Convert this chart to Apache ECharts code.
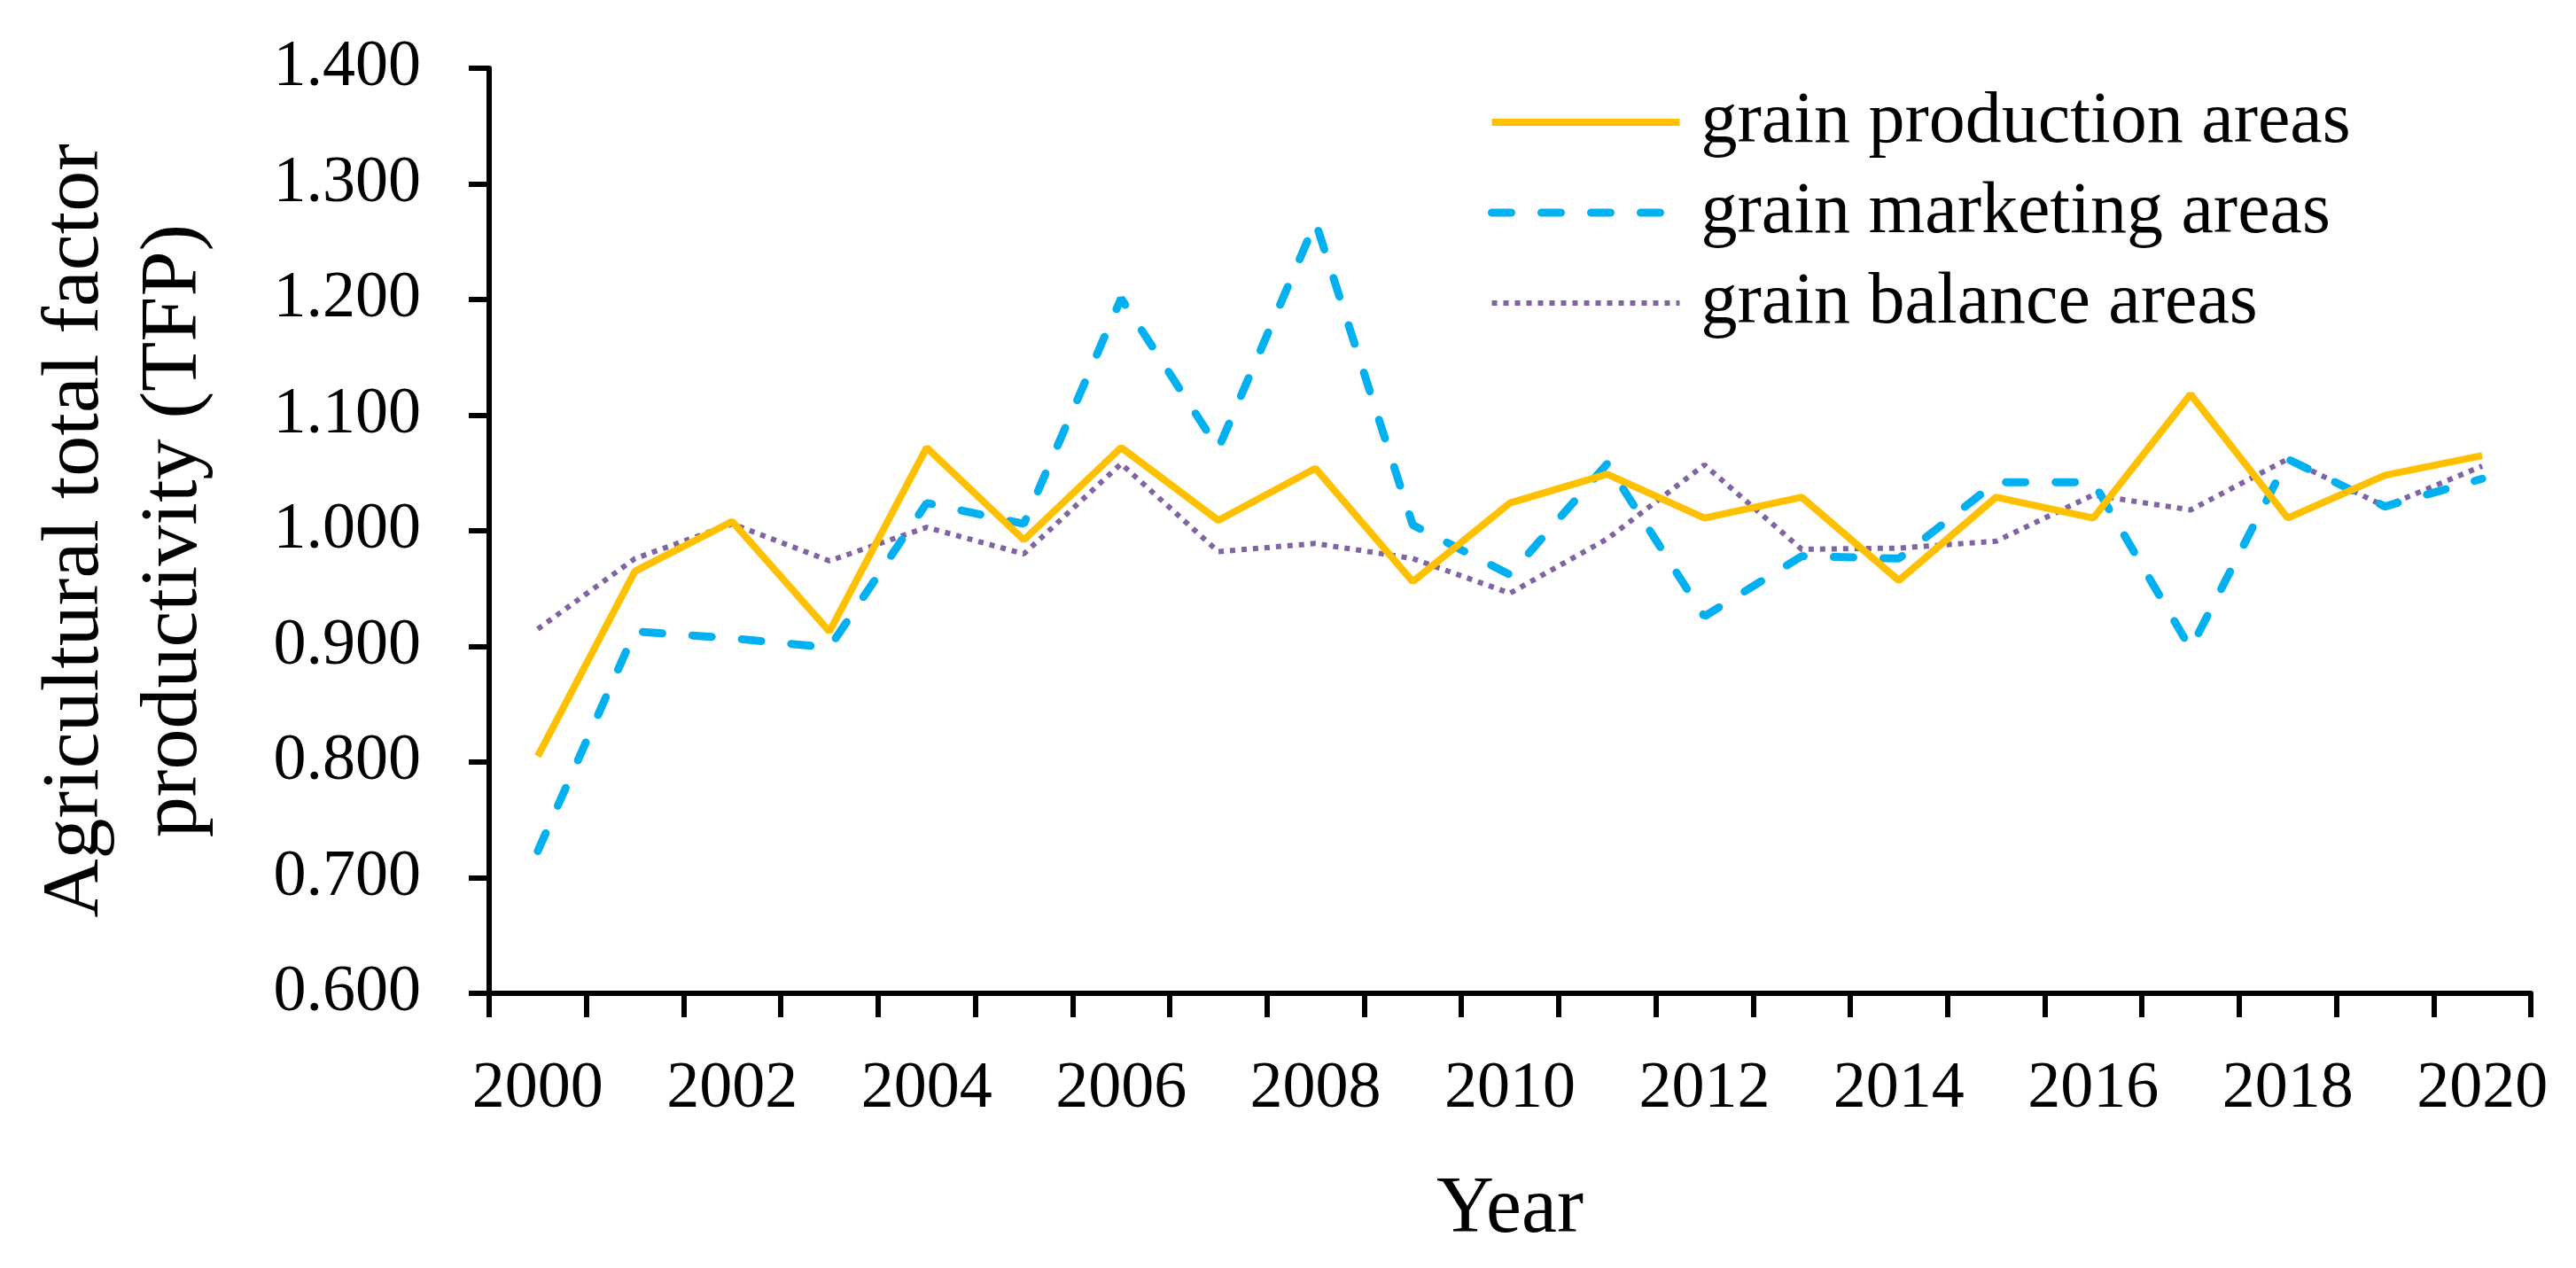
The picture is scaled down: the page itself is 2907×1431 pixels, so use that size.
<!DOCTYPE html>
<html>
<head>
<meta charset="utf-8">
<script src="https://cdn.jsdelivr.net/npm/echarts@6/dist/echarts.min.js"></script>
<style>
html, body { margin: 0; padding: 0; background: #fff; }
#chart { width: 2907px; height: 1431px; }
</style>
</head>
<body>
<div id="chart"></div>
<script>
const years = ['2000','2001','2002','2003','2004','2005','2006','2007','2008','2009','2010',
               '2011','2012','2013','2014','2015','2016','2017','2018','2019','2020'];
const productionAreas = [0.805, 0.965, 1.008, 0.913, 1.072, 0.992, 1.072, 1.009, 1.054, 0.956, 1.024,
                         1.049, 1.011, 1.029, 0.957, 1.029, 1.011, 1.118, 1.011, 1.048, 1.065];
const marketingAreas  = [0.723, 0.913, 0.907, 0.899, 1.024, 1.006, 1.201, 1.071, 1.267, 1.005, 0.962,
                         1.058, 0.926, 0.978, 0.976, 1.042, 1.042, 0.898, 1.062, 1.021, 1.045];
const balanceAreas    = [0.915, 0.976, 1.006, 0.974, 1.003, 0.980, 1.058, 0.982, 0.989, 0.976, 0.946,
                         0.993, 1.057, 0.984, 0.985, 0.991, 1.031, 1.018, 1.062, 1.021, 1.056];
const seriesNames = ['grain production areas', 'grain marketing areas', 'grain balance areas'];
const yTicks = { min: 0.6, max: 1.4, step: 0.1 };

const FONT = 'Liberation Serif';
const styles = [
  { color: '#FFC000', width: 8, type: 'solid', cap: 'butt' },
  { color: '#00B0F0', width: 9, type: [22, 34], cap: 'round' },
  { color: '#8064A2', width: 6, type: [6, 7], cap: 'butt' }
];
const chart = echarts.init(document.getElementById('chart'), null, { renderer: 'canvas' });
chart.setOption({
  backgroundColor: '#ffffff',
  animation: false,
  grid: { left: 552, top: 77, right: 51, bottom: 310, containLabel: false },
  legend: {
    orient: 'vertical',
    left: 1674,
    top: 92,
    itemWidth: 212,
    itemHeight: 20,
    itemGap: 20,
    itemStyle: { opacity: 0 },
    textStyle: { fontFamily: FONT, fontSize: 82, lineHeight: 82, color: '#000', padding: [0, 0, 0, 19] },
    data: seriesNames.map((n, i) => ({ name: n, lineStyle: { width: styles[i].width, type: styles[i].type, cap: styles[i].cap, color: styles[i].color } }))
  },
  xAxis: {
    type: 'category',
    data: years,
    boundaryGap: true,
    name: 'Year',
    nameLocation: 'middle',
    nameGap: 200,
    nameTextStyle: { fontFamily: FONT, fontSize: 90, lineHeight: 90, color: '#000' },
    axisLine: { show: true, lineStyle: { color: '#000', width: 6 } },
    axisTick: { show: true, inside: false, length: 27, interval: 0, alignWithLabel: false, lineStyle: { color: '#000', width: 6 } },
    axisLabel: { interval: 1, margin: 72, fontFamily: FONT, fontSize: 74, color: '#000' },
    splitLine: { show: false }
  },
  yAxis: {
    type: 'value',
    min: yTicks.min,
    max: yTicks.max,
    interval: yTicks.step,
    name: 'Agricultural total factor\nproductivity (TFP)',
    nameLocation: 'middle',
    nameRotate: 90,
    nameGap: 300,
    nameTextStyle: { fontFamily: FONT, fontSize: 92, lineHeight: 111, color: '#000' },
    axisLine: { show: true, lineStyle: { color: '#000', width: 6 } },
    axisTick: { show: true, inside: false, length: 23, lineStyle: { color: '#000', width: 6 } },
    axisLabel: { margin: 77, fontFamily: FONT, fontSize: 74, color: '#000',
                 formatter: v => v.toFixed(3) },
    splitLine: { show: false }
  },
  series: [
    {
      name: seriesNames[0], type: 'line', data: productionAreas, symbol: 'none',
      lineStyle: styles[0], itemStyle: { color: styles[0].color }, z: 3
    },
    {
      name: seriesNames[1], type: 'line', data: marketingAreas, symbol: 'none',
      lineStyle: styles[1], itemStyle: { color: styles[1].color }, z: 2
    },
    {
      name: seriesNames[2], type: 'line', data: balanceAreas, symbol: 'none',
      lineStyle: styles[2], itemStyle: { color: styles[2].color }, z: 1
    }
  ]
});
</script>
</body>
</html>
